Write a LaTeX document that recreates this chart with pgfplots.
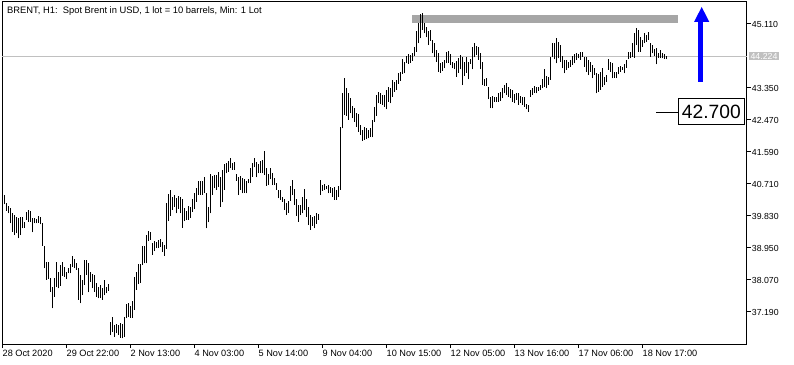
\documentclass[border=0pt]{standalone}
\usepackage{fontspec}
\setmainfont{Liberation Sans}
\usepackage{pgfplots}
\pgfplotsset{compat=1.18}
\usepackage{pgfplotstable}
\definecolor{rectgray}{HTML}{A6A6A6}
\definecolor{linegray}{HTML}{C0C0C0}
\definecolor{arrowblue}{HTML}{0000FF}
\pgfplotstableread{
i l h
0 40.151 40.408
1 39.968 40.178
2 39.903 40.114
3 39.628 40.041
4 39.399 39.903
5 39.307 39.858
6 39.353 39.812
7 39.216 39.766
8 39.307 39.812
9 39.491 39.793
10 39.509 39.674
11 39.720 39.931
12 39.674 39.995
13 39.674 39.967
14 39.381 39.766
15 39.628 39.766
16 39.628 39.748
17 39.647 39.830
18 39.601 39.793
19 39.014 39.628
20 38.391 39.005
21 38.070 38.574
22 38.097 38.574
23 37.749 38.116
24 37.291 37.887
25 37.612 38.134
26 37.887 38.556
27 37.841 38.281
28 37.914 38.482
29 38.189 38.556
30 38.162 38.437
31 38.097 38.299
32 38.253 38.391
33 38.253 38.519
34 38.437 38.739
35 38.391 38.647
36 38.345 38.528
37 37.520 38.391
38 37.428 38.208
39 37.657 38.070
40 37.932 38.620
41 38.208 38.620
42 37.731 38.528
43 38.024 38.281
44 37.841 38.226
45 37.749 38.208
46 37.612 37.978
47 37.566 37.887
48 37.566 37.932
49 37.520 37.841
50 37.657 38.070
51 37.704 37.887
52 37.768 37.951
53 36.557 36.924
54 36.649 37.043
55 36.512 36.833
56 36.603 36.851
57 36.557 36.833
58 36.484 36.878
59 36.466 36.860
60 36.512 37.062
61 37.016 37.419
62 37.062 37.428
63 37.034 37.364
64 37.034 37.492
65 37.245 38.162
66 37.795 38.281
67 37.951 38.510
68 37.996 38.501
69 38.482 39.014
70 38.528 39.014
71 38.528 39.307
72 39.142 39.417
73 39.170 39.381
74 38.758 39.078
75 38.867 39.142
76 38.941 39.124
77 38.959 39.170
78 38.987 39.197
79 38.849 39.124
80 38.739 39.032
81 38.922 40.178
82 39.692 40.426
83 39.839 40.545
84 39.995 40.362
85 40.087 40.408
86 39.903 40.316
87 40.022 40.389
88 39.903 40.362
89 39.509 40.298
90 39.692 40.059
91 39.720 39.967
92 39.720 40.114
93 39.784 40.087
94 39.949 40.298
95 40.022 40.453
96 40.224 40.609
97 40.408 40.792
98 40.408 40.792
99 40.408 40.792
100 40.453 40.893
101 39.491 40.453
102 39.656 40.087
103 39.903 40.976
104 40.408 40.939
105 40.591 40.957
106 40.545 40.957
107 40.637 41.031
108 40.087 40.912
109 40.206 41.095
110 40.545 41.251
111 41.003 41.297
112 41.049 41.352
113 41.141 41.416
114 41.095 41.278
115 41.095 41.324
116 40.802 40.985
117 40.407 40.912
118 40.545 40.930
119 40.453 40.866
120 40.472 40.838
121 40.453 40.802
122 40.728 40.838
123 40.747 41.141
124 40.912 41.297
125 41.168 41.416
126 40.893 41.324
127 41.003 41.260
128 41.022 41.352
129 41.003 41.370
130 40.957 41.617
131 40.655 41.141
132 40.682 40.985
133 40.838 41.141
134 40.682 41.003
135 40.682 40.866
136 40.545 40.728
137 40.316 40.545
138 40.270 40.545
139 40.224 40.362
140 39.995 40.288
141 39.857 40.178
142 39.922 40.252
143 40.252 40.655
144 40.407 40.820
145 40.132 40.563
146 39.830 40.288
147 39.674 40.132
148 39.857 40.132
149 39.903 40.362
150 39.995 40.563
151 39.812 40.288
152 39.582 40.087
153 39.445 39.857
154 39.555 39.793
155 39.491 39.830
156 39.610 39.903
157 39.720 39.885
158 40.407 40.820
159 40.527 40.682
160 40.545 40.710
161 40.563 40.655
162 40.453 40.682
163 40.472 40.637
164 40.362 40.591
165 40.270 40.618
166 40.270 40.545
167 40.362 40.655
168 40.545 42.286
169 42.241 43.203
170 42.607 43.616
171 42.580 43.341
172 42.470 43.203
173 42.653 43.066
174 42.516 42.855
175 42.424 42.791
176 42.286 42.653
177 42.149 42.635
178 42.057 42.332
179 41.902 42.195
180 41.920 42.268
181 41.938 42.241
182 41.966 42.195
183 42.012 42.241
184 41.993 42.470
185 42.424 42.837
186 42.580 43.157
187 42.928 43.249
188 42.910 43.203
189 42.882 43.157
190 42.837 43.157
191 42.763 43.295
192 42.974 43.387
193 42.928 43.341
194 43.112 43.570
195 43.249 43.524
196 43.295 43.570
197 43.460 43.772
198 43.552 43.799
199 43.735 44.138
200 43.753 44.074
201 44.028 44.230
202 44.010 44.285
203 44.047 44.257
204 44.102 44.322
205 44.230 44.468
206 44.349 44.927
207 44.578 45.128
208 44.716 45.385
209 44.945 45.403
210 44.853 45.128
211 44.743 45.018
212 44.532 44.927
213 44.652 44.945
214 44.303 44.670
215 44.212 44.578
216 44.074 44.395
217 43.799 44.303
218 43.772 44.028
219 43.827 44.074
220 43.891 44.120
221 44.028 44.349
222 44.047 44.377
223 43.982 44.285
224 43.891 44.074
225 43.863 44.028
226 43.662 44.102
227 43.772 44.166
228 43.863 44.258
229 43.432 44.212
230 43.680 44.074
231 43.772 44.212
232 43.588 44.074
233 44.010 44.138
234 43.863 44.487
235 44.193 44.578
236 44.258 44.505
237 44.120 44.487
238 43.863 44.303
239 43.432 44.074
240 43.405 43.588
241 43.405 43.616
242 43.038 43.387
243 42.791 43.112
244 42.791 43.130
245 42.974 43.112
246 42.974 43.112
247 42.974 43.222
248 43.002 43.249
249 43.066 43.341
250 43.203 43.432
251 43.157 43.478
252 43.112 43.387
253 43.066 43.313
254 42.974 43.295
255 42.928 43.185
256 43.020 43.203
257 42.883 43.203
258 42.947 43.130
259 42.883 43.112
260 42.837 43.112
261 42.763 42.910
262 42.699 42.882
263 43.112 43.295
264 43.157 43.341
265 43.222 43.405
266 43.203 43.387
267 43.277 43.387
268 43.295 43.432
269 43.341 43.588
270 43.387 43.863
271 43.341 43.680
272 43.432 43.662
273 43.570 44.212
274 44.193 44.578
275 44.138 44.578
276 44.028 44.716
277 44.166 44.624
278 44.074 44.532
279 43.891 44.239
280 43.753 44.120
281 43.845 44.120
282 43.891 44.074
283 43.937 44.120
284 43.982 44.239
285 44.028 44.276
286 44.120 44.303
287 44.166 44.276
288 44.120 44.349
289 44.212 44.331
290 43.937 44.212
291 43.799 44.212
292 43.707 44.120
293 43.799 44.056
294 43.616 43.982
295 43.707 43.909
296 43.203 43.753
297 43.249 43.726
298 43.295 43.799
299 43.387 43.909
300 43.432 43.662
301 43.524 43.707
302 43.845 44.147
303 43.799 44.056
304 43.616 44.028
305 43.634 43.799
306 43.616 43.781
307 43.726 43.937
308 43.799 43.964
309 43.845 43.937
310 43.753 44.001
311 43.909 44.120
312 44.147 44.331
313 44.166 44.349
314 44.212 44.578
315 44.184 44.853
316 44.532 44.991
317 44.349 44.945
318 44.349 44.762
319 44.487 44.670
320 44.578 44.853
321 44.624 44.807
322 44.670 44.881
323 44.212 44.578
324 44.303 44.532
325 44.239 44.422
326 44.001 44.441
327 44.184 44.303
328 44.166 44.395
329 44.166 44.303
330 44.147 44.276
331 44.147 44.239
}\bars
\begin{document}
\begin{tikzpicture}
\path[use as bounding box] (-2bp,-21bp) rectangle (792bp,344bp);
\begin{axis}[
  at={(0,0)}, anchor=south west,
  scale only axis, width=744.7bp, height=342bp,
  xmin=-1, xmax=371.35, ymin=36.31, ymax=45.715,
  clip=false,
  axis line style={black, line width=1bp},
  tick align=outside,
  xtick pos=bottom, ytick pos=right,
  major tick length=4bp,
  tick style={black, line width=1bp},
  xtick={-1,31,63,95,127,159,191,223,255,287,319},
  xticklabels={28 Oct 2020,29 Oct 22:00,2 Nov 13:00,4 Nov 03:00,5 Nov 14:00,9 Nov 04:00,10 Nov 15:00,12 Nov 05:00,13 Nov 16:00,17 Nov 06:00,18 Nov 17:00},
  xticklabel style={anchor=north west, inner sep=0pt, font=\fontsize{9.2}{10}\selectfont, yshift=-2bp, xshift=0.5bp},
  ytick={37.19,38.07,38.95,39.83,40.71,41.59,42.47,43.35,45.11},
  yticklabel pos=right,
  yticklabel style={anchor=west, inner sep=0pt, font=\fontsize{8.8}{10}\selectfont, xshift=1bp,
    /pgf/number format/.cd, fixed, fixed zerofill, precision=3, assume math mode=true},
]
% resistance rectangle
\addplot[draw=none, fill=rectgray] coordinates {(204,45.137) (337,45.137) (337,45.357) (204,45.357)} -- cycle;
% current price line
\addplot[linegray, line width=1bp] coordinates {(-1,44.224) (371.35,44.224)};
% bars
\addplot[black, line width=1bp, quiver={u=0, v=\thisrow{h}-\thisrow{l}}] table[x=i, y=l] {\bars};
% blue arrow
\fill[arrowblue] (axis cs:346.75,43.515) rectangle (axis cs:349.25,45.17);
\fill[arrowblue] (axis cs:345,45.165) -- (axis cs:352.65,45.165) -- (axis cs:348.85,45.5775) -- cycle;
% 42.700 label
\draw[black, line width=1bp] (axis cs:326,42.682) -- (axis cs:337.15,42.682);
\draw[black, line width=1bp, fill=white] (axis cs:337.15,43.0475) rectangle (axis cs:370.15,42.3325);
\node[font=\fontsize{19.3}{22}\selectfont, inner sep=0pt] at (axis cs:353.65,42.69) {42.700};
% current price tag
\node[anchor=west, fill=linegray, text=white, inner sep=1.2bp, font=\fontsize{8.8}{10}\selectfont, xshift=2.5bp] at (axis cs:371.35,44.224) {44.224};
\end{axis}
\node[anchor=base west, inner sep=0pt, font=\fontsize{9.4}{11}\selectfont] at (5bp,330.7bp) {BRENT, H1:\ \ Spot Brent in USD, 1 lot = 10 barrels, Min: 1 Lot};
\end{tikzpicture}
\end{document}
